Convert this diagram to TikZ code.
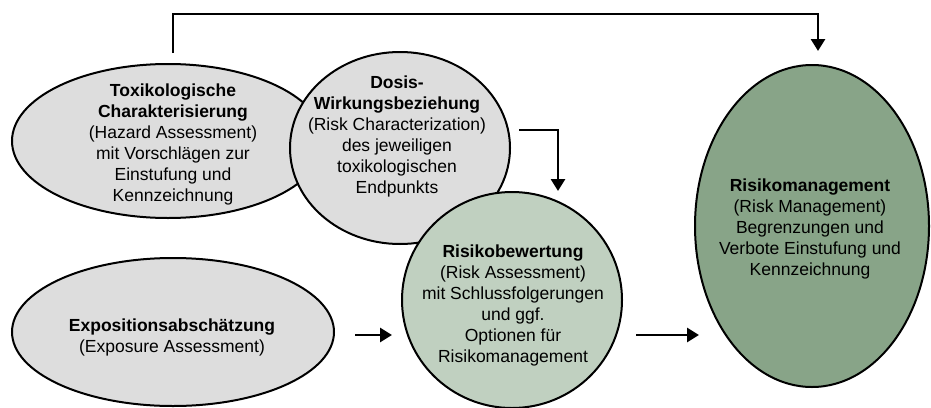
\documentclass[tikz,border=0pt]{standalone}
\usepackage{fontspec}
\setmainfont{Liberation Sans}
\usetikzlibrary{shapes.geometric,arrows.meta}

\definecolor{grau}{HTML}{DDDDDD}
\definecolor{hellgruen}{HTML}{C0D0C0}
\definecolor{dunkelgruen}{HTML}{88A488}

\begin{document}
\begin{tikzpicture}[x=1pt, y=-1pt]
  \tikzstyle{blob}=[ellipse, draw=black, line width=2pt, inner sep=0pt]
  \tikzstyle{txt}=[align=center, inner sep=0pt, font=\fontsize{17.5}{21}\selectfont]
  \tikzstyle{arr}=[-{Triangle[width=14pt,length=12pt]}, line width=2.8pt]

  \useasboundingbox (0,0) rectangle (931,407);

  % left column
  \node[blob, fill=grau, minimum width=312pt, minimum height=154pt] (tox) at (168,141) {};
  \node[txt] (toxtext) at (173,144) {\textbf{Toxikologische}\\\textbf{Charakterisierung}\\(Hazard Assessment)\\mit Vorschlägen zur\\Einstufung und\\Kennzeichnung};

  \node[blob, fill=grau, minimum width=220pt, minimum height=192pt] (dosis) at (400,148) {};
  \node[txt] (dosistext) at (397,136) {\textbf{Dosis-}\\\textbf{Wirkungsbeziehung}\\(Risk Characterization)\\des jeweiligen\\toxikologischen\\Endpunkts};

  \node[blob, fill=grau, minimum width=322pt, minimum height=148pt] (expo) at (173,332) {};
  \node[txt] (expotext) at (172,337) {\textbf{Expositionsabschätzung}\\(Exposure Assessment)};

  % middle and right
  \node[blob, fill=hellgruen, minimum width=220pt, minimum height=216pt] (risbew) at (512,300) {};
  \node[txt] (risbewtext) at (513,305) {\textbf{Risikobewertung}\\(Risk Assessment)\\mit Schlussfolgerungen\\und ggf.\\Optionen für\\Risikomanagement};

  \node[blob, fill=dunkelgruen, minimum width=234pt, minimum height=322pt] (risman) at (812,226) {};
  \node[txt] (rismantext) at (810,229) {\textbf{Risikomanagement}\\(Risk Management)\\Begrenzungen und\\Verbote Einstufung und\\Kennzeichnung};

  \coordinate (oben) at (0,14);

  % connectors
  \draw[arr, shorten <=10pt, shorten >=13pt] ([xshift=5pt]tox.north) -- ([xshift=5pt]tox.north |- oben) -| ([xshift=6pt]risman.north);
  \draw[arr] ([xshift=8pt,yshift=18pt]dosis.east) -| ([xshift=46pt]risbew.north);
  \draw[arr, shorten <=20pt, shorten >=9pt] ([yshift=-3pt]expo.east) -- ([yshift=-3pt]expo.east -| risbew.west);
  \draw[arr, shorten <=13pt, shorten >=-5pt] ([yshift=-35pt]risbew.east) -- ([yshift=-35pt]risbew.east -| risman.west);
\end{tikzpicture}
\end{document}
